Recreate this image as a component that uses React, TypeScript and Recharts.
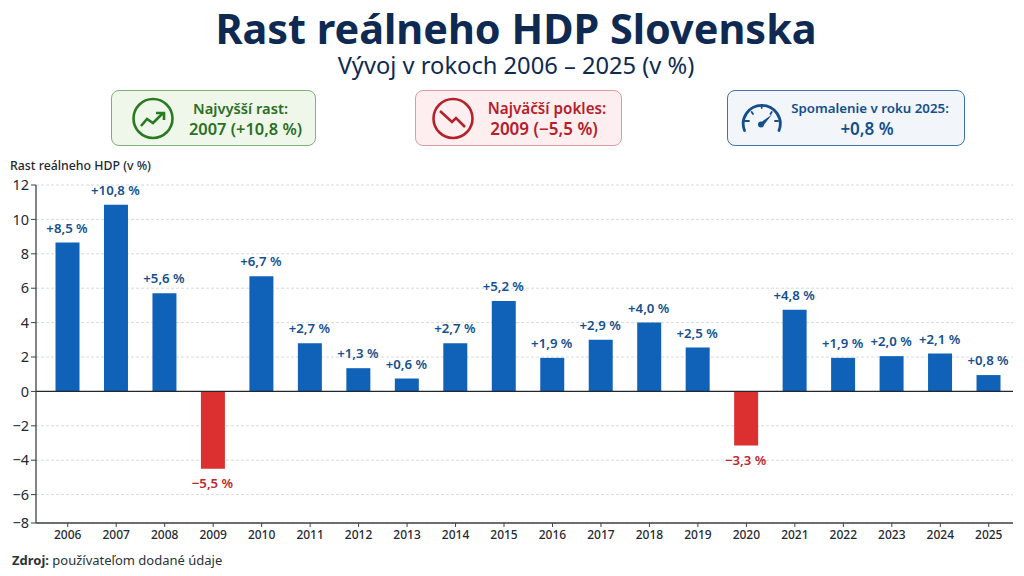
import React from "react";
import { BarChart, Bar, XAxis, YAxis, CartesianGrid, Cell, LabelList, ReferenceLine } from "recharts";

const years = ["2006","2007","2008","2009","2010","2011","2012","2013","2014","2015","2016","2017","2018","2019","2020","2021","2022","2023","2024","2025"];
const barValues = [8.65,10.85,5.7,-4.5,6.7,2.8,1.35,0.75,2.8,5.25,1.95,3.0,4.0,2.55,-3.15,4.75,1.95,2.05,2.2,0.95];
const barLabels = ["+8,5 %","+10,8 %","+5,6 %","−5,5 %","+6,7 %","+2,7 %","+1,3 %","+0,6 %","+2,7 %","+5,2 %","+1,9 %","+2,9 %","+4,0 %","+2,5 %","−3,3 %","+4,8 %","+1,9 %","+2,0 %","+2,1 %","+0,8 %"];
const yTicks = [12,10,8,6,4,2,0,-2,-4,-6,-7.65];
const data = years.map((year, i) => ({ year, value: barValues[i], label: barLabels[i] }));

const FONT = "'Noto Sans', sans-serif";
const BLUE = "#0f62b8";
const RED = "#dc2f2f";
const AXIS = "#3c4248";

const fmtY = (v: number) => { const r = Math.round(v); return r < 0 ? "−" + Math.abs(r) : String(r); };

const BarLabel = (props: any) => {
  const { x, y, width, height, index } = props;
  const neg = barValues[index] < 0;
  const cy = neg ? Math.max(y, y + height) + 15 : Math.min(y, y + height) - 14;
  return (
    <text x={x + width / 2 - 0.5} y={cy} dy={4} textAnchor="middle" fontFamily={FONT} fontSize={13.2} fontWeight={600}
      fill={neg ? "#c0272d" : "#14508f"}>{barLabels[index]}</text>
  );
};

const Card = (p: { left: number; width: number; bg: string; border: string; color: string; iconX: number; x1: number; x2: number; l1: string; l2: string; fs1: number; fs2: number; icon: React.ReactNode }) => (
  <div style={{ position: "absolute", left: p.left, top: 90, width: p.width, height: 56, boxSizing: "border-box", background: p.bg, border: `1px solid ${p.border}`, borderRadius: 8, fontFamily: FONT, color: p.color, fontWeight: 600 }}>
    <div style={{ position: "absolute", left: p.iconX, top: 6 }}>{p.icon}</div>
    <div style={{ position: "absolute", left: p.x1 - p.left - 101, width: 200, top: 7, textAlign: "center", whiteSpace: "nowrap", fontSize: p.fs1, lineHeight: "20px" }}>{p.l1}</div>
    <div style={{ position: "absolute", left: p.x2 - p.left - 101, width: 200, top: 27, textAlign: "center", whiteSpace: "nowrap", fontSize: p.fs2, lineHeight: "21px" }}>{p.l2}</div>
  </div>
);

const UpIcon = (
  <svg width="44" height="44" viewBox="0 0 44 44" fill="none" stroke="#2a7a22" strokeWidth="2.6">
    <circle cx="21" cy="21.5" r="19.5" />
    <path d="M9 29 L15 22 L21 26 L31 16" strokeWidth="2.6" />
    <path d="M24 16 L32 16 L32 23" strokeWidth="2.6" />
  </svg>
);
const DownIcon = (
  <svg width="44" height="44" viewBox="0 0 44 44" fill="none" stroke="#b5202a" strokeWidth="2.6">
    <circle cx="21" cy="21.5" r="19.5" />
    <path d="M8 14 L20 25 L24 21 L33 30" strokeWidth="2.6" />
  </svg>
);
const GaugeIcon = (
  <svg width="44" height="44" viewBox="0 0 44 44" fill="none" stroke="#144f8c" strokeWidth="2.8" strokeLinecap="round">
    <path d="M3.5 33.5 A18.5 18.5 0 1 1 38 33.5" />
    <path d="M4 24 L8 24 M37 24 L34 24 M20.7 8 L20.7 11 M10.7 15 L12 17 M30.7 15 L29.5 17" strokeWidth="1.8" />
    <path d="M19 26 L31 17.5 L22 29 Z" fill="#144f8c" stroke="none" />
    <circle cx="20" cy="27.5" r="3" fill="#144f8c" stroke="none" />
  </svg>
);

export default function App() {
  return (
    <div style={{ position: "absolute", left: 0, top: 0, width: 1024, height: 576, background: "#fff", overflow: "hidden" }}>
      <div style={{ position: "absolute", left: 0, top: 5, width: 1032, textAlign: "center", fontFamily: FONT, fontSize: 41.4, fontWeight: 700, color: "#0e2a52", lineHeight: "46px", whiteSpace: "nowrap" }}>Rast reálneho HDP Slovenska</div>
      <div style={{ position: "absolute", left: 0, top: 52, width: 1032, textAlign: "center", fontFamily: FONT, fontSize: 23.7, color: "#0e2a52", lineHeight: "26px", whiteSpace: "nowrap" }}>Vývoj v rokoch 2006 – 2025 (v %)</div>

      <Card left={111} width={205} bg="#eff7ea" border="#7fb077" color="#2a6f25" iconX={20} x1={240.5} x2={245.5} l1="Najvyšší rast:" l2="2007 (+10,8 %)" fs1={14.7} fs2={16.4} icon={UpIcon} />
      <Card left={415} width={207} bg="#fdeff0" border="#e09a9f" color="#b5202a" iconX={16} x1={547} x2={544} l1="Najväčší pokles:" l2="2009 (−5,5 %)" fs1={15.2} fs2={17} icon={DownIcon} />
      <Card left={727} width={238} bg="#f2f6fb" border="#3f74a8" color="#144f8c" iconX={13} x1={870} x2={867} l1="Spomalenie v roku 2025:" l2="+0,8 %" fs1={13.3} fs2={17} icon={GaugeIcon} />

      <div style={{ position: "absolute", left: 10, top: 158, fontFamily: FONT, fontSize: 12.3, fontWeight: 500, color: "#1f2933", lineHeight: "16px", whiteSpace: "nowrap" }}>Rast reálneho HDP (v %)</div>

      <div style={{ position: "absolute", left: 0, top: 0 }}>
        <BarChart width={1024} height={576} data={data} margin={{ top: 185, right: 11, bottom: 0, left: 0 }} barCategoryGap={0} barSize={24}>
          <CartesianGrid horizontal vertical={false} stroke="#cdd2d6" strokeDasharray="3 2" strokeWidth={0.8} />
          <XAxis dataKey="year" height={53} interval={0} padding={{ left: 7.5, right: 0 }} axisLine={{ stroke: AXIS, strokeWidth: 1.3 }} tickLine={{ stroke: AXIS }} tickSize={4}
            tick={{ fontFamily: FONT, fontSize: 12, fontWeight: 500, fill: "#1f2933" }} tickMargin={3} />
          <YAxis width={36} domain={[-7.65, 12]} ticks={yTicks} interval={0} tickFormatter={fmtY} axisLine={{ stroke: AXIS, strokeWidth: 1.3 }} tickLine={{ stroke: AXIS }} tickSize={5}
            tick={{ fontFamily: FONT, fontSize: 14.5, fill: "#1f2933" }} tickMargin={2} />
          <ReferenceLine y={0} stroke="#23282d" strokeWidth={1.3} />
          <Bar dataKey="value" isAnimationActive={false}>
            {data.map((d) => <Cell key={d.year} fill={d.value < 0 ? RED : BLUE} />)}
            <LabelList dataKey="label" content={BarLabel} />
          </Bar>
        </BarChart>
      </div>

      <div style={{ position: "absolute", left: 12, top: 551, fontFamily: FONT, fontSize: 13, color: "#2b3138", lineHeight: "18px", whiteSpace: "nowrap" }}><b>Zdroj:</b> používateľom dodané údaje</div>
    </div>
  );
}
